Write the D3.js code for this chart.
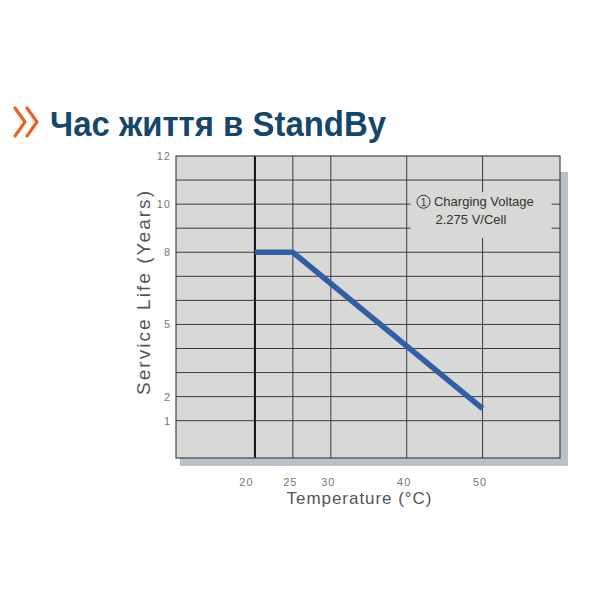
<!DOCTYPE html>
<html>
<head>
<meta charset="utf-8">
<script src="https://cdn.jsdelivr.net/npm/d3@7"></script>
<style>
  body { margin: 0; background: #fff; }
</style>
</head>
<body>
<div id="chart"></div>
<script>
// data
const temps = [20, 25, 50];
const lifeYears = [8, 8, 1.5];
const xTicks = [20, 25, 30, 40, 50];
const yTicks = [12, 10, 8, 5, 2, 1];
const yGrid = [1, 2, 3, 4, 5, 6, 7, 8, 9, 10, 11];
const title = 'Час життя в StandBy';
const noteLines = ['Charging Voltage', '2.275 V/Cell'];

const svg = d3.select('#chart')
    .append('svg')
    .attr('width', 600)
    .attr('height', 600)
    .style('background-color', '#fff');

// plot box
const margin = {top: 156, right: 40, bottom: 142, left: 176};
const graphWidth = 600 - margin.left - margin.right;
const graphHeight = 600 - margin.top - margin.bottom;

// title with orange chevrons
const chev = svg.append('g').attr('fill', 'none')
    .attr('stroke', '#e8622a').attr('stroke-width', 3.2)
    .attr('stroke-linecap', 'round').attr('stroke-linejoin', 'round');
chev.append('polyline').attr('points', '15,108 25,122 15,136');
chev.append('polyline').attr('points', '27,108 37,122 27,136');
svg.append('text')
    .attr('x', 50).attr('y', 136)
    .attr('font-family', 'Liberation Sans, Arial, sans-serif')
    .attr('font-weight', 'bold')
    .attr('font-size', 35)
    .attr('textLength', 336)
    .attr('lengthAdjust', 'spacingAndGlyphs')
    .attr('fill', '#17466b')
    .text(title);

// shadow behind the plot
svg.append('rect')
    .attr('x', margin.left + 4).attr('y', margin.top + 16)
    .attr('width', graphWidth + 4).attr('height', graphHeight - 8)
    .attr('fill', '#b9c1ca');

const graph = svg.append('g')
    .attr('transform', `translate(${margin.left}, ${margin.top})`);

const x = d3.scaleLinear().domain([9.6, 60.2]).range([0, graphWidth]);
const y = d3.scaleLinear().domain([-0.55, 12]).range([graphHeight, 0]);

graph.append('rect')
    .attr('width', graphWidth).attr('height', graphHeight)
    .attr('fill', '#d8d8d6');

// grid lines
graph.selectAll('.hgrid')
    .data(yGrid)
    .enter()
    .append('line')
    .attr('class', 'hgrid')
    .attr('x1', 0).attr('x2', graphWidth)
    .attr('y1', d => y(d)).attr('y2', d => y(d))
    .attr('stroke', '#3a3a3a').attr('stroke-width', 1);
graph.selectAll('.vgrid')
    .data(xTicks)
    .enter()
    .append('line')
    .attr('class', 'vgrid')
    .attr('x1', d => x(d)).attr('x2', d => x(d))
    .attr('y1', 0).attr('y2', graphHeight)
    .attr('stroke', d => d === 20 ? '#111' : '#3a3a3a')
    .attr('stroke-width', d => d === 20 ? 2 : 1);

// note box covers the grid
const noteX = x(40.5), noteY = y(10.5);
graph.append('rect')
    .attr('x', noteX).attr('y', noteY)
    .attr('width', x(59.1) - noteX).attr('height', y(8.6) - noteY)
    .attr('fill', '#d8d8d6');
graph.append('circle')
    .attr('cx', noteX + 13).attr('cy', y(10.1))
    .attr('r', 6.5)
    .attr('fill', 'none').attr('stroke', '#333').attr('stroke-width', 1);
graph.append('text')
    .attr('x', noteX + 13).attr('y', y(10.1) + 4)
    .attr('text-anchor', 'middle')
    .attr('font-family', 'Liberation Sans, Arial, sans-serif')
    .attr('font-size', 10).attr('fill', '#333')
    .text('1');
graph.selectAll('.note')
    .data(noteLines)
    .enter()
    .append('text')
    .attr('class', 'note')
    .attr('x', (d, i) => noteX + (i === 0 ? 23.5 : 25))
    .attr('y', (d, i) => y(10.1) + 4.5 + i * 18)
    .attr('font-family', 'Liberation Sans, Arial, sans-serif')
    .attr('font-size', 13).attr('fill', '#333')
    .text(d => d);

// plot border
graph.append('rect')
    .attr('width', graphWidth).attr('height', graphHeight)
    .attr('fill', 'none').attr('stroke', '#444').attr('stroke-width', 1.2);

// service life line
const line = d3.line()
    .x((d, i) => x(temps[i]))
    .y(d => y(d));
graph.append('path')
    .attr('d', line(lifeYears))
    .attr('fill', 'none')
    .attr('stroke', '#2f5fa6')
    .attr('stroke-width', 5.5)
    .attr('stroke-linejoin', 'round');

// axes (labels only)
const xAxis = d3.axisBottom(x).tickValues(xTicks).tickSize(0).tickPadding(20);
const yAxis = d3.axisLeft(y).tickValues(yTicks).tickSize(0).tickPadding(5);
const xAxisGroup = graph.append('g')
    .attr('transform', `translate(0, ${graphHeight})`)
    .call(xAxis);
const yAxisGroup = graph.append('g').call(yAxis);
[xAxisGroup, yAxisGroup].forEach(g => {
    g.select('.domain').remove();
    g.selectAll('text')
        .attr('font-family', 'Liberation Sans, Arial, sans-serif')
        .attr('font-size', 11)
        .attr('letter-spacing', 1)
        .attr('fill', '#777');
});
xAxisGroup.selectAll('text').attr('dx', d => d === 20 ? -9 : -3);

// axis titles
svg.append('text')
    .attr('transform', `translate(359, 504)`)
    .attr('font-family', 'Liberation Sans, Arial, sans-serif')
    .attr('font-size', 17)
    .attr('textLength', 145)
    .attr('fill', '#555')
    .style('text-anchor', 'middle')
    .text('Temperature (°C)');
svg.append('text')
    .attr('transform', `translate(150, 293) rotate(-90)`)
    .attr('font-family', 'Liberation Sans, Arial, sans-serif')
    .attr('font-size', 19)
    .attr('textLength', 204)
    .attr('fill', '#555')
    .style('text-anchor', 'middle')
    .text('Service Life (Years)');
</script>
</body>
</html>
